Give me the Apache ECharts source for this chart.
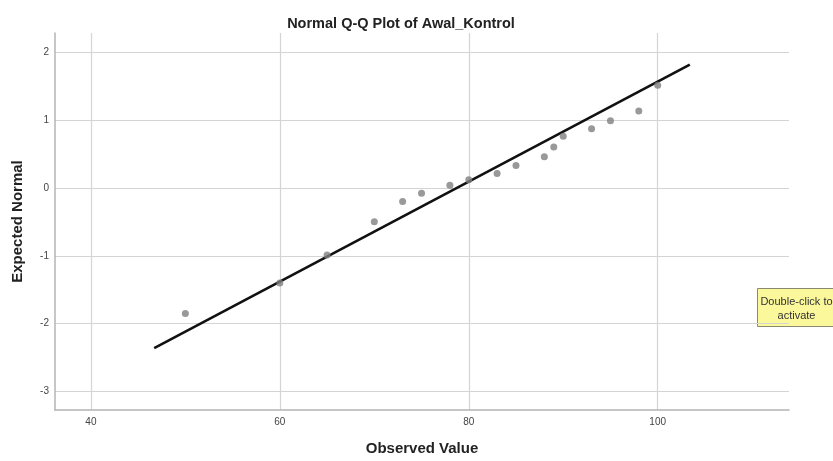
<!DOCTYPE html>
<html>
<head>
<meta charset="utf-8">
<script src="https://cdn.jsdelivr.net/npm/echarts@6/dist/echarts.min.js"></script>
<style>
  html, body { margin: 0; padding: 0; background: #fff; }
  #chart { width: 833px; height: 461px; }
</style>
</head>
<body>
<div id="chart"></div>
<script>
var observed = [50, 60, 65, 70, 73, 75, 78, 80, 83, 85, 88, 89, 90, 93, 95, 98, 100];
var expected = [-1.85, -1.40, -0.99, -0.50, -0.20, -0.08, 0.04, 0.12, 0.21, 0.33, 0.46, 0.60, 0.76, 0.87, 0.99, 1.13, 1.51];
// reference line ends
var lineX = [46.7, 103.4];
var lineY = [-2.36, 1.815];
var xTicks = [40, 60, 80, 100];
var yTicks = [-3, -2, -1, 0, 1, 2];

var points = observed.map(function (v, i) { return [v, expected[i]]; });
var refLine = lineX.map(function (v, i) { return [v, lineY[i]]; });

var myChart = echarts.init(document.getElementById('chart'));
myChart.setOption({
  animation: false,
  title: {
    text: 'Normal Q-Q Plot of Awal_Kontrol',
    left: 396,
    top: 11,
    textAlign: 'center',
    textStyle: { fontFamily: 'Liberation Sans', fontSize: 14.5, fontWeight: 'bold', color: '#222' }
  },
  grid: { left: 55, right: 44, top: 33, bottom: 48 },
  xAxis: {
    type: 'value',
    min: 36.2,
    max: 113.9,
    name: 'Observed Value',
    nameLocation: 'middle',
    nameGap: 31,
    nameTextStyle: { fontFamily: 'Liberation Sans', fontSize: 15, fontWeight: 'bold', color: '#222' },
    axisLine: { show: true, onZero: false, lineStyle: { color: '#b4b4b4', width: 1.5 } },
    axisTick: { show: false, customValues: xTicks },
    axisLabel: { customValues: xTicks, margin: 7, fontFamily: 'Liberation Sans', fontSize: 10, color: '#444' },
    splitLine: { show: true, lineStyle: { color: '#d4d4d4', width: 1.2 } }
  },
  yAxis: {
    type: 'value',
    min: -3.27,
    max: 2.28,
    name: 'Expected Normal',
    nameLocation: 'middle',
    nameGap: 30,
    nameTextStyle: { fontFamily: 'Liberation Sans', fontSize: 15, fontWeight: 'bold', color: '#222' },
    axisLine: { show: true, onZero: false, lineStyle: { color: '#b4b4b4', width: 1.5 } },
    axisTick: { show: false, customValues: yTicks },
    axisLabel: { customValues: yTicks, margin: 6, fontFamily: 'Liberation Sans', fontSize: 10, color: '#444' },
    splitLine: { show: true, lineStyle: { color: '#d4d4d4', width: 1.2 } }
  },
  series: [
    {
      type: 'line',
      data: refLine,
      symbol: 'none',
      lineStyle: { color: '#111', width: 2.6 },
      z: 3
    },
    {
      type: 'scatter',
      data: points,
      symbolSize: 7,
      itemStyle: { color: '#808080' },
      z: 4
    }
  ],
  graphic: [
    {
      type: 'group',
      left: 757,
      top: 288,
      children: [
        {
          type: 'rect',
          shape: { x: 0, y: 0, width: 80, height: 38 },
          style: { fill: '#fbf79b', stroke: '#8a8a70', lineWidth: 1 }
        },
        {
          type: 'text',
          x: 39,
          y: 6,
          style: {
            text: 'Double-click to\nactivate',
            align: 'center',
            fontFamily: 'Liberation Sans',
            fontSize: 11,
            lineHeight: 14,
            fill: '#333'
          }
        }
      ]
    }
  ]
});
</script>
</body>
</html>
